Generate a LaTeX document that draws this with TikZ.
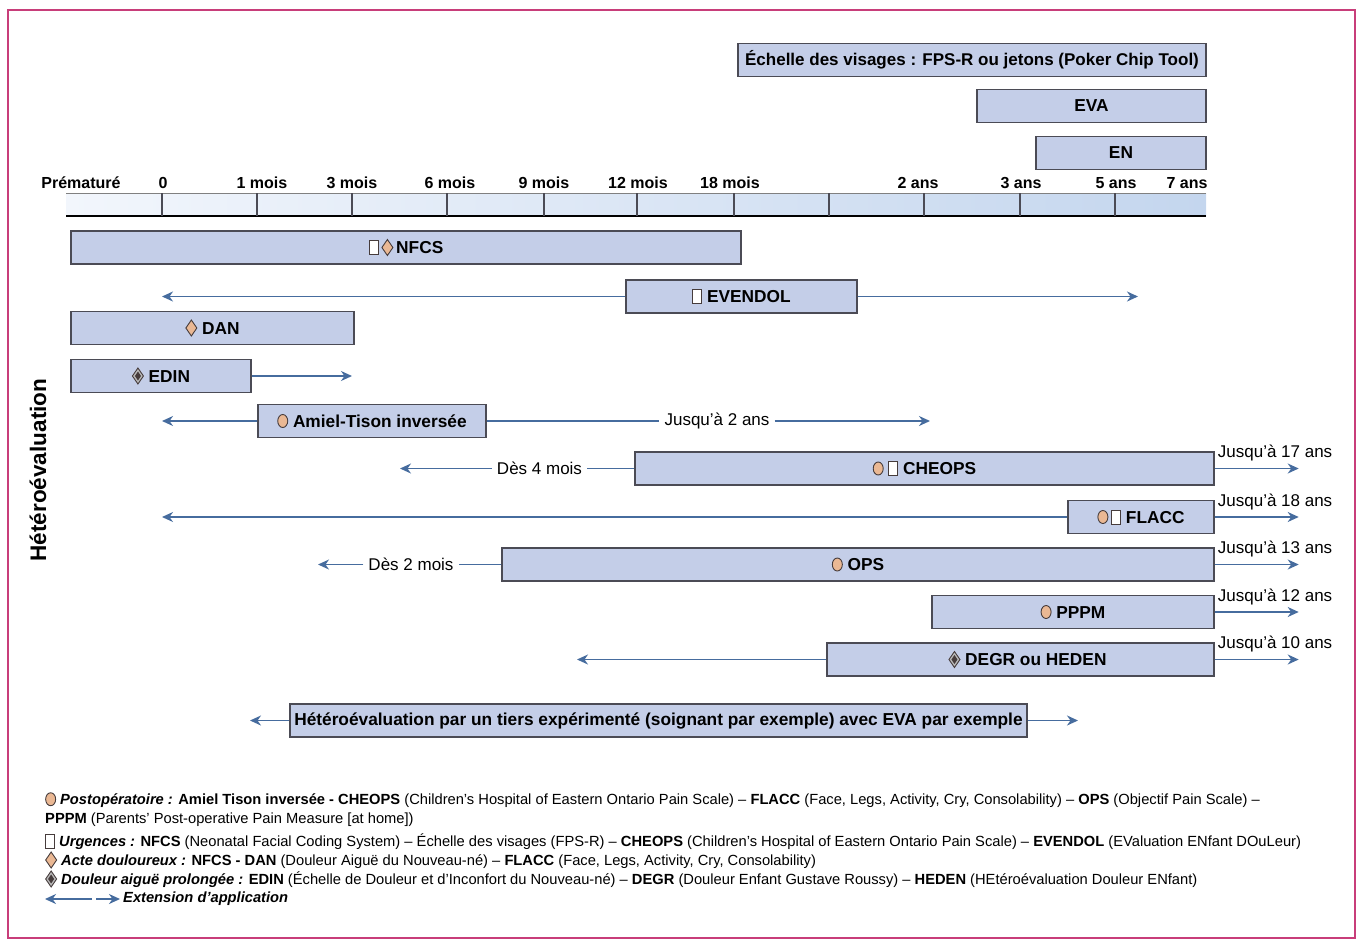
\documentclass[tikz,border=0pt]{standalone}
\usepackage{fontspec}
\setmainfont{Liberation Sans}
\usetikzlibrary{arrows.meta,positioning}

\definecolor{barfill}{RGB}{196,206,232}
\definecolor{barline}{RGB}{75,75,85}
\definecolor{extblue}{RGB}{70,108,158}
\definecolor{framecol}{RGB}{200,62,122}
\definecolor{peach}{RGB}{234,184,148}
\definecolor{symline}{RGB}{70,60,60}
\definecolor{scaleleft}{RGB}{242,246,252}
\definecolor{scaleright}{RGB}{196,214,238}

% small pain-context symbols
\newcommand{\symcirc}{\tikz[baseline=-0.7ex]\draw[fill=peach,draw=symline,line width=0.9pt] (0,0) ellipse (5pt and 6.5pt);}
\newcommand{\symsq}{\tikz[baseline=-0.7ex]\draw[fill=white,draw=symline,line width=0.9pt] (-4.5pt,-7pt) rectangle (4.5pt,7pt);}
\newcommand{\symdia}{\tikz[baseline=-0.7ex]\draw[fill=peach,draw=symline,line width=0.9pt] (0,8pt) -- (5.5pt,0) -- (0,-8pt) -- (-5.5pt,0) -- cycle;}
\newcommand{\symddia}{\tikz[baseline=-0.7ex]{\draw[fill=gray!55,draw=symline,line width=0.9pt] (0,8pt) -- (5.5pt,0) -- (0,-8pt) -- (-5.5pt,0) -- cycle;
  \fill[symline] (0,4.5pt) -- (3pt,0) -- (0,-4.5pt) -- (-3pt,0) -- cycle;}}

\tikzset{
  bar/.style={draw=barline, fill=barfill, line width=1.4pt, minimum height=33pt, inner sep=0pt,
    font=\fontsize{17.3}{20}\selectfont\bfseries},
  ext/.style={draw=extblue, line width=1.6pt, -{Stealth[length=11pt,width=10pt,inset=3.5pt]}},
  extline/.style={draw=extblue, line width=1.6pt},
  ticklab/.style={font=\fontsize{16}{18}\selectfont\bfseries, inner sep=0pt},
  note/.style={font=\fontsize{17}{19}\selectfont, inner xsep=5pt, inner ysep=0pt},
  jusq/.style={font=\fontsize{17}{19}\selectfont, inner sep=0pt, anchor=west},
  legend/.style={font=\fontsize{14.7}{17}\selectfont, inner sep=0pt, anchor=west},
}

\begin{document}
\begin{tikzpicture}[x=1pt,y=-1pt]
  \useasboundingbox (0,0) rectangle (1362,943);
  \draw[framecol, line width=2pt] (8,10) rectangle (1355,938);

  % self-report scales
  \node[bar, minimum width=468pt, font=\fontsize{17}{20}\selectfont\bfseries] (ech) at (972,60) {Échelle des visages : FPS-R ou jetons (Poker Chip Tool)};
  \node[bar, minimum width=229pt] (eva) at (1091.5,106) {EVA};
  \node[bar, minimum width=170pt] (en) at (1121,153) {EN};

  % age scale
  \shade[left color=scaleleft, right color=scaleright] (66,193) rectangle (1206,216);
  \draw[gray, line width=1pt] (66,193) -- (1206,193);
  \draw[black, line width=1.6pt] (66,216) -- (1206,216);
  \foreach \x in {162,257,352,447,544,637,734,829,924,1020,1115}
    \draw[barline, line width=1.2pt] (\x,193) -- (\x,216);
  \node[ticklab] (tpre) at (81,183) {Prématuré};
  \foreach \x/\t [count=\i] in {163/0, 262/1 mois, 352/3 mois, 450/6 mois, 544/9 mois, 638/12 mois,
      730/18 mois, 918/2 ans, 1021/3 ans, 1116/5 ans, 1187/7 ans}
    \node[ticklab] (t\i) at (\x,183) {\t};

  \node[rotate=90, font=\fontsize{22.5}{25}\selectfont\bfseries] (hetero) at (38,470) {Hétéroévaluation};

  % observer scales
  \node[bar, minimum width=670pt] (nfcs) at (406,247.5) {\symsq\,\symdia\,NFCS};
  \node[bar, minimum width=231pt] (evendol) at (741.5,296.5) {\symsq\ EVENDOL};
  \coordinate (evL) at (162,296.5);
  \coordinate (evR) at (1138,296.5);
  \draw[ext] (evendol.west) -- (evL);
  \draw[ext] (evendol.east) -- (evR);

  \node[bar, minimum width=283pt] (dan) at (212.5,328) {\symdia\ DAN};

  \node[bar, minimum width=180pt] (edin) at (161,376) {\symddia\ EDIN};
  \coordinate (edR) at (352,376);
  \draw[ext] (edin.east) -- (edR);

  \node[bar, minimum width=228pt] (amiel) at (372,421) {\symcirc\ Amiel-Tison inversée};
  \coordinate (amL) at (162,421);
  \draw[ext] (amiel.west) -- (amL);
  \node[note] (j2) at (717,421) {Jusqu'à 2 ans};
  \coordinate (amR) at (930,421);
  \draw[extline] (amiel.east) -- (j2.west);
  \draw[ext] (j2.east) -- (amR);

  \node[bar, minimum width=579pt] (cheops) at (924.5,468.5) {\symcirc\ \symsq\ CHEOPS};
  \node[note] (d4) at (539.5,468.5) {Dès 4 mois};
  \coordinate (chL) at (400,468.5);
  \draw[extline] (cheops.west) -- (d4.east);
  \draw[ext] (d4.west) -- (chL);

  \node[bar, minimum width=146pt] (flacc) at (1141,517) {\symcirc\,\symsq\ FLACC};
  \coordinate (flL) at (162,517);
  \draw[ext] (flacc.west) -- (flL);

  \node[bar, minimum width=712pt] (ops) at (858,564.5) {\symcirc\ OPS};
  \node[note] (d2) at (411,564.5) {Dès 2 mois};
  \coordinate (opL) at (318,564.5);
  \draw[extline] (ops.west) -- (d2.east);
  \draw[ext] (d2.west) -- (opL);

  \node[bar, minimum width=282pt] (pppm) at (1073,612) {\symcirc\ PPPM};

  \node[bar, minimum width=387pt] (degr) at (1020.5,659.5) {\hspace*{14pt}\symddia\ DEGR ou HEDEN};
  \coordinate (dgL) at (577,659.5);
  \draw[ext] (degr.west) -- (dgL);

  % upper age limits
  \foreach \b/\t in {cheops/17, flacc/18, ops/13, pppm/12, degr/10}{
    \node[jusq] (j\t) at ([shift={(3,-15.5)}]\b.east) {Jusqu'à \t\ ans};
    \coordinate (e\t) at ([xshift=84]\b.east);
    \draw[ext] (\b.east) -- (e\t);
  }

  \node[bar, minimum width=737pt] (tiers) at (658.5,720.5) {Hétéroévaluation par un tiers expérimenté (soignant par exemple) avec EVA par exemple};
  \coordinate (tiL) at (250,720.5);
  \coordinate (tiR) at (1078,720.5);
  \draw[ext] (tiers.west) -- (tiL);
  \draw[ext] (tiers.east) -- (tiR);

  % legend
  \node[legend] (leg1) at (45,800) {\symcirc\ \textbf{\textit{Postopératoire :}} \textbf{Amiel Tison inversée - CHEOPS} (Children's Hospital of Eastern Ontario Pain Scale) – \textbf{FLACC} (Face, Legs, Activity, Cry, Consolability) – \textbf{OPS} (Objectif Pain Scale) –};
  \node[legend] (leg2) at (45,820) {\textbf{PPPM} (Parents' Post-operative Pain Measure [at home])};
  \node[legend] (leg3) at (45,842) {\symsq\ \textbf{\textit{Urgences :}} \textbf{NFCS} (Neonatal Facial Coding System) – Échelle des visages (FPS-R) – \textbf{CHEOPS} (Children's Hospital of Eastern Ontario Pain Scale) – \textbf{EVENDOL} (EValuation ENfant DOuLeur)};
  \node[legend] (leg4) at (45,860) {\symdia\ \textbf{\textit{Acte douloureux :}} \textbf{NFCS - DAN} (Douleur Aiguë du Nouveau-né) – \textbf{FLACC} (Face, Legs, Activity, Cry, Consolability)};
  \node[legend] (leg5) at (45,879) {\symddia\ \textbf{\textit{Douleur aiguë prolongée :}} \textbf{EDIN} (Échelle de Douleur et d'Inconfort du Nouveau-né) – \textbf{DEGR} (Douleur Enfant Gustave Roussy) – \textbf{HEDEN} (HEtéroévaluation Douleur ENfant)};
  \coordinate (lgA) at (92,899);
  \coordinate (lgB) at (45,899);
  \coordinate (lgC) at (96,899);
  \coordinate (lgD) at (120,899);
  \draw[ext] (lgA) -- (lgB);
  \draw[ext] (lgC) -- (lgD);
  \node[legend] (leg6) at (123,899) {\textbf{\textit{Extension d'application}}};
\end{tikzpicture}
\end{document}
